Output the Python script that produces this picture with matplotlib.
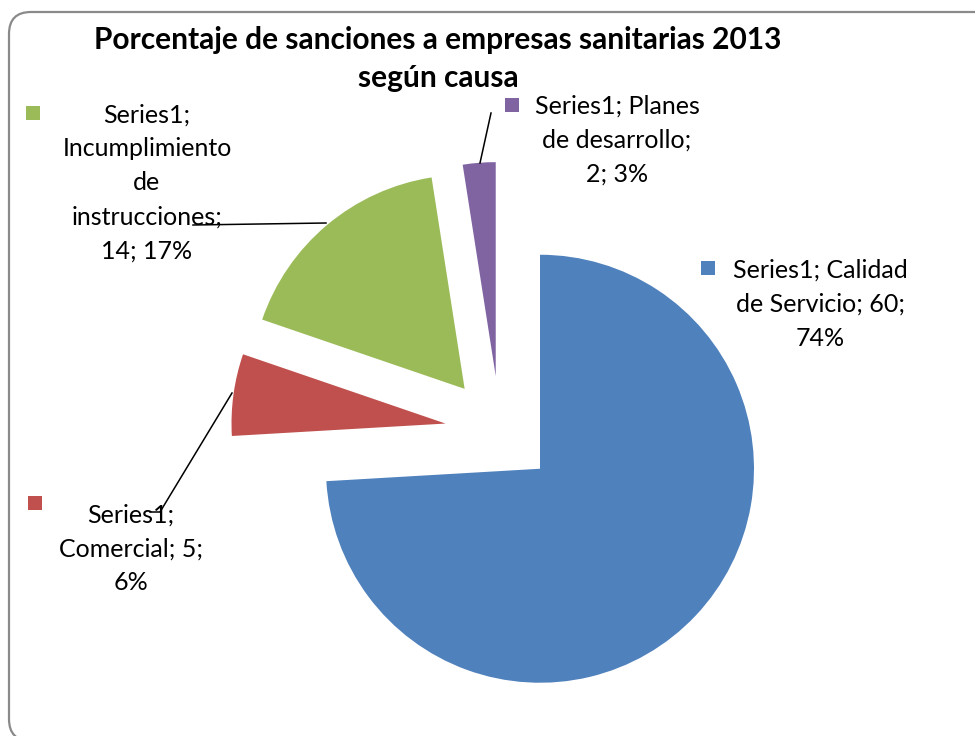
import matplotlib
matplotlib.use('Agg')
import matplotlib.pyplot as plt
from matplotlib.patches import FancyBboxPatch, Rectangle

# datos del grafico
series_name = 'Series1'
causas = ['Calidad de Servicio', 'Comercial', 'Incumplimiento de instrucciones', 'Planes de desarrollo']
sanciones = [60, 5, 14, 2]
porcentajes = ['74%', '6%', '17%', '3%']
colores = ['#4F81BD', '#C0504D', '#9BBB59', '#8064A2']

titulo = ['Porcentaje de sanciones a empresas sanitarias 2013', 'según causa']

W, H = 975, 736
FONT = 'Lato'


def py(y):
    # pixel row (top down) -> data y (bottom up)
    return H - y


fig = plt.figure(figsize=(W / 100, H / 100), dpi=100)
ax = fig.add_axes([0, 0, 1, 1])

# explode en pixeles (matplotlib lo toma en unidades de datos)
ax.pie(sanciones, colors=colores, startangle=90, counterclock=False,
       explode=[55] * len(sanciones), radius=214, center=(500, py(431)),
       wedgeprops=dict(linewidth=0))

ax.set_xlim(0, W)
ax.set_ylim(0, H)
ax.set_aspect('equal')
ax.axis('off')

# marco redondeado (sale por la derecha y por abajo)
frame = FancyBboxPatch((9, py(741)), 988, 729, boxstyle='round,pad=0,rounding_size=22',
                       facecolor='none', edgecolor='#8a8a8a', lw=1.6, clip_on=False)
ax.add_patch(frame)

for k, ln in enumerate(titulo):
    ax.text(438, py(40 + k * 38), ln, ha='center', va='center', fontsize=21.5,
            fontweight='bold', family=FONT)

# etiquetas: (texto en lineas, centro x, y primera linea, posicion del cuadrado)
etiquetas = [
    (['Series1; Calidad', 'de Servicio; 60;', '74%'], 820, 270, (701, 261)),
    (['Series1;', 'Comercial; 5;', '6%'], 131, 515, (28, 496)),
    (['Series1;', 'Incumplimiento', 'de', 'instrucciones;', '14; 17%'], 147, 115, (26, 106)),
    (['Series1; Planes', 'de desarrollo;', '2; 3%'], 617, 106, (505, 98)),
]
for (lineas, cx, y0, sq), col in zip(etiquetas, colores):
    for k, ln in enumerate(lineas):
        ax.text(cx, py(y0 + k * 34), ln, ha='center', va='center', fontsize=18, family=FONT)
    ax.add_patch(Rectangle((sq[0], py(sq[1] + 14)), 14, 14, facecolor=col, edgecolor='none'))

# lineas guia
guias = [
    ([193, 326], [225, 223]),
    ([232, 160, 150], [393, 512, 512]),
    ([491, 480], [113, 163]),
]
for gx, gy in guias:
    ax.plot(gx, [py(v) for v in gy], color='black', lw=1.1)

fig.savefig('out.png', dpi=100)
